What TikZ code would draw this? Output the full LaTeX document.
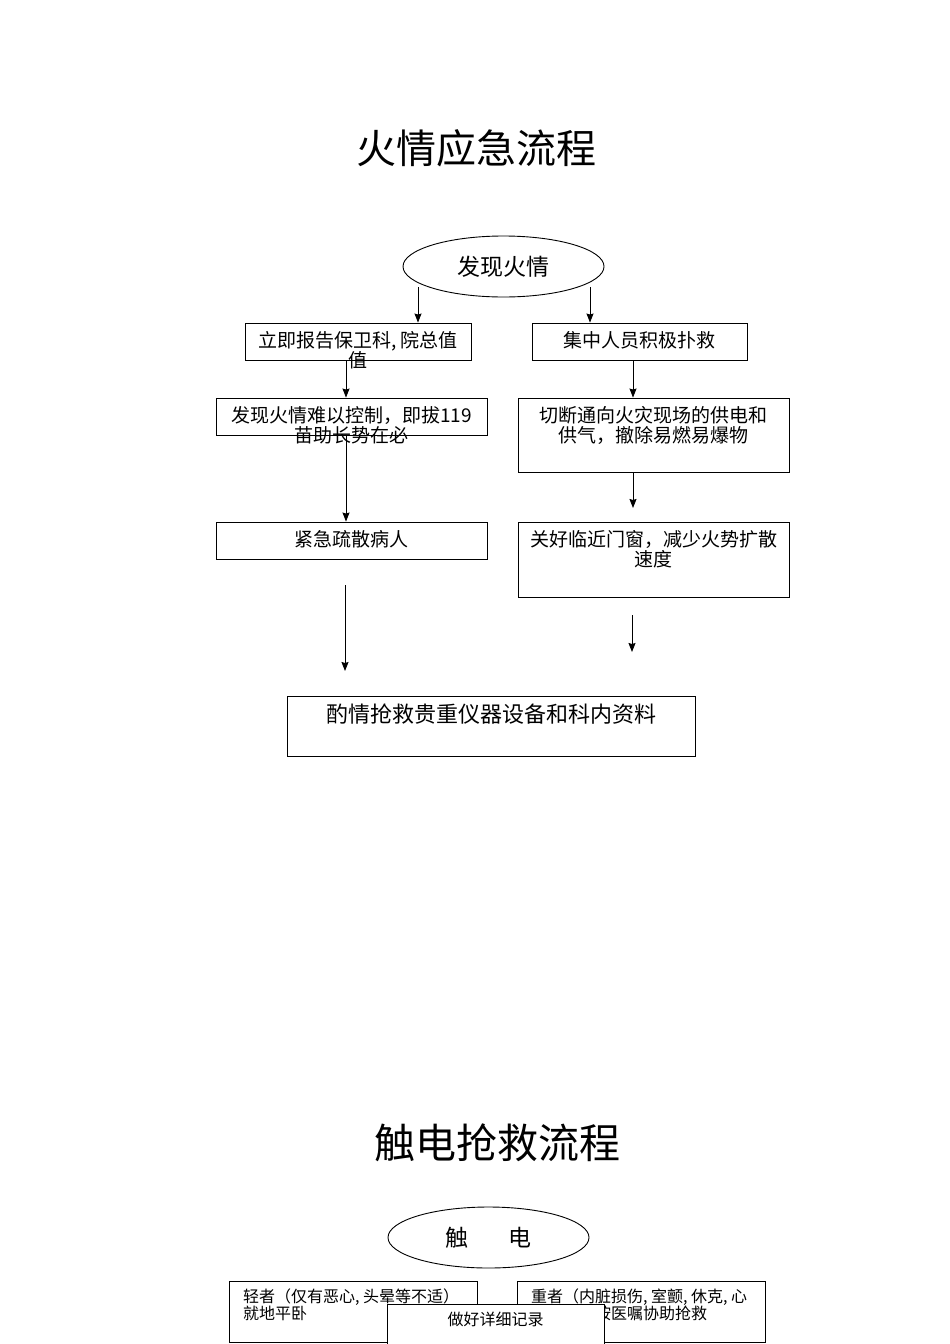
\documentclass[tikz,border=0pt]{standalone}
\usepackage{fontspec}
\setmainfont{Noto Sans CJK SC}
\usepackage{tikz}
\usetikzlibrary{shapes}
\usetikzlibrary{arrows.meta}

\begin{document}
\begin{tikzpicture}[x=1pt,y=-1pt,->,>={Stealth[length=9pt,width=7pt,inset=1pt]},
                    line width=0.9pt]
  \tikzstyle{box}=[draw,rectangle,inner sep=0pt]
  \tikzstyle{oval}=[draw,ellipse,inner sep=0pt,minimum width=201pt,minimum height=61pt]
  \tikzstyle{title}=[font=\fontsize{40}{44}\selectfont]
  \tikzstyle{txt}=[anchor=north,align=center,inner xsep=0pt,inner ysep=8pt,
                   font=\fontsize{19}{20}\selectfont]
  \tikzstyle{small}=[anchor=north west,align=left,inner xsep=14pt,inner ysep=7.5pt,
                     font=\fontsize{16}{16.5}\selectfont]

  \useasboundingbox (0,0) rectangle (950,1344);

  % fire
  \node[title] (t1) at (476.5,148) {火情应急流程};
  \node[oval,font=\fontsize{23}{26}\selectfont] (0) at (503.5,266.5) {发现火情};
  \node[box,minimum width=226pt,minimum height=37pt,
        label={[txt]north:立即报告保卫科, 院总值\\值}] (1) at (358,341.5) {};
  \node[box,minimum width=215pt,minimum height=37pt,
        label={[txt]north:集中人员积极扑救}] (2) at (639.5,341.5) {};
  \node[box,minimum width=271pt,minimum height=37pt,
        label={[txt]north:发现火情难以控制，即拔119\\苗助长势在必}] (3) at (351.5,416.5) {};
  \node[box,minimum width=271pt,minimum height=74pt,
        label={[txt]north:切断通向火灾现场的供电和\\供气，撤除易燃易爆物}] (4) at (653.5,435) {};
  \node[box,minimum width=271pt,minimum height=37pt,
        label={[txt]north:紧急疏散病人}] (5) at (351.5,540.5) {};
  \node[box,minimum width=271pt,minimum height=75pt,
        label={[txt]north:关好临近门窗，减少火势扩散\\速度}] (6) at (653.5,559.5) {};
  \node[box,minimum width=408pt,minimum height=60pt,
        label={[txt,font=\fontsize{22}{24}\selectfont]north:酌情抢救贵重仪器设备和科内资料}] (7) at (491,726) {};

  \coordinate (a1) at (418,287);
  \coordinate (a2) at (590,287);
  \coordinate (c1) at (346,0);
  \coordinate (c2) at (633,0);
  \coordinate (e4) at (633,508);
  \coordinate (s5) at (345,585);
  \coordinate (e5) at (345,671);
  \coordinate (s6) at (632,615);
  \coordinate (e6) at (632,652);

  \path (a1) edge (a1 |- 1.north)
        (a2) edge (a2 |- 2.north)
        (c1 |- 1.south) edge (c1 |- 3.north)
        (c1 |- 3.south) edge (c1 |- 5.north)
        (c2 |- 2.south) edge (c2 |- 4.north)
        (c2 |- 4.south) edge (e4)
        (s5) edge (e5)
        (s6) edge (e6);

  % electric shock
  \node[title,font=\fontsize{41}{45}\selectfont] (t2) at (497,1143) {触电抢救流程};
  \node[oval,font=\fontsize{23}{26}\selectfont] (e0) at (488.5,1237.5) {触\hspace{1.7em}电};
  \node[box,minimum width=248pt,minimum height=61pt,
        label={[small]north west:轻者（仅有恶心, 头晕等不适）\\就地平卧}] (e1) at (353,1311.5) {};
  \node[box,minimum width=248pt,minimum height=61pt,
        label={[small]north west:重者（内脏损伤, 室颤, 休克, 心\\跳骤停）按医嘱协助抢救}] (e2) at (641,1311.5) {};
  \node[box,fill=white,minimum width=217pt,minimum height=46pt,
        label={[txt,inner ysep=7.5pt,font=\fontsize{16}{17}\selectfont]north:做好详细记录}] (e3) at (495.5,1327) {};
\end{tikzpicture}
\end{document}
